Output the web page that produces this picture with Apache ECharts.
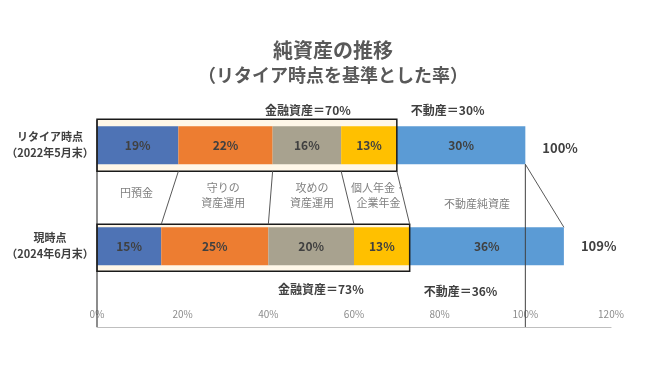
<!DOCTYPE html>
<html><head><meta charset="utf-8">
<script src="https://cdn.jsdelivr.net/npm/echarts@6/dist/echarts.min.js"></script>
<style>html,body{margin:0;padding:0;background:#fff}#c{width:666px;height:368px}</style>
</head><body><div id="c"></div>
<script>
const categories = ['リタイア時点\n（2022年5月末）', '', '現時点\n（2024年6月末）', ''];
const segmentNames = ['円預金', '守りの\n資産運用', '攻めの\n資産運用', '個人年金・\n企業年金', '不動産純資産'];
const retireValues = [19, 22, 16, 13, 30];
const currentValues = [15, 25, 20, 13, 36];
const totalValues = [100, 109];
const financialValues = [70, 73];
const realEstateValues = [30, 36];
const xTicks = [0, 20, 40, 60, 80, 100, 120];
const titleText = '純資産の推移';
const subtitleText = '（リタイア時点を基準とした率）';

const colors = ['#4E73B5', '#ED7D31', '#A8A28F', '#FFC000', '#5B9BD5'];
const FONT = '"Noto Sans CJK JP", "Noto Sans CJK SC", sans-serif';
const BAR = 38;
const rowsCat = [0, 2];
const AXIS_OFFSET = 5;

function cum(arr, n){ let s=0; for(let i=0;i<=n;i++) s+=arr[i]; return s; }
function txt(x, y, text, o){
  return {type:'text', x:x, y:y, silent:true, style:Object.assign({text:text, fill:'#404040', fontFamily:FONT, fontSize:12, fontWeight:'bold', align:'center', verticalAlign:'middle', textAlign:'center', textVerticalAlign:'middle'}, o||{})};
}
function boxBounds(api, r){
  const ci = rowsCat[r];
  const p0 = api.coord([0, ci]);
  const p1 = api.coord([financialValues[r], ci]);
  const top = p0[1] - BAR/2 - (r===0?7:3);
  const bot = p0[1] + BAR/2 + (r===0?7:6);
  return {x0:p0[0], x1:p1[0], top:top, bot:bot, cy:p0[1]};
}

const chart = echarts.init(document.getElementById('c'), null, {renderer:'canvas'});
const barSeries = segmentNames.map((name, i) => ({
  type:'bar', name:name, stack:'total', barWidth:BAR, z:2,
  data:[retireValues[i], null, currentValues[i], null],
  itemStyle:{color:colors[i]},
  label:{show:true, position:'inside', formatter:p => p.value + '%', color:'#404040', fontSize:12, fontWeight:'bold', fontFamily:FONT}
}));

const boxSeries = {
  type:'custom', z:1, silent:true, data:[[0,0]],
  renderItem:(params, api) => {
    const children = [];
    for (let r=0;r<2;r++){
      const b = boxBounds(api, r);
      children.push({type:'rect', shape:{x:b.x0, y:b.top, width:b.x1-b.x0, height:b.bot-b.top}, style:{fill:'#FFF7E8'}});
    }
    return {type:'group', children:children};
  }
};

const overlaySeries = {
  type:'custom', z:5, silent:true, data:[[0,0]],
  renderItem:(params, api) => {
    const cs = params.coordSys;
    const axisY = cs.y + cs.height + AXIS_OFFSET;
    const children = [];
    const lineStyle = {stroke:'#404040', lineWidth:1};
    children.push({type:'line', shape:{x1:cs.x, y1:cs.y, x2:cs.x, y2:axisY}, style:{stroke:'#404040', lineWidth:1.2}});
    const bb = [boxBounds(api,0), boxBounds(api,1)];
    bb.forEach(b => children.push({type:'rect', shape:{x:b.x0, y:b.top, width:b.x1-b.x0, height:b.bot-b.top}, style:{fill:'none', stroke:'#1a1a1a', lineWidth:1.5}}));
    for (let i=0;i<segmentNames.length;i++){
      const xt = api.coord([cum(retireValues,i), rowsCat[0]])[0];
      const xb = api.coord([cum(currentValues,i), rowsCat[1]])[0];
      const last = i === segmentNames.length-1;
      const y1 = last ? bb[0].cy + BAR/2 : bb[0].bot;
      const y2 = last ? bb[1].cy - BAR/2 : bb[1].top;
      children.push({type:'line', shape:{x1:xt, y1:y1, x2:xb, y2:y2}, style:{stroke:'#595959', lineWidth:1}});
    }
    const x100 = api.coord([totalValues[0], rowsCat[0]])[0];
    children.push({type:'line', shape:{x1:x100, y1:bb[0].cy + BAR/2, x2:x100, y2:axisY}, style:lineStyle});
    const midY = api.coord([0, 1])[1];
    for (let i=0;i<segmentNames.length;i++){
      const ct = cum(retireValues,i) - retireValues[i]/2;
      const cb = cum(currentValues,i) - currentValues[i]/2;
      const x = api.coord([(ct+cb)/2, 1])[0] + 3;
      const single = segmentNames[i].indexOf('\n') < 0;
      const dy = single ? (i === 0 ? -3 : 8) : 0;
      children.push(txt(x, midY + dy, segmentNames[i], {fill:'#808080', fontSize:11, fontWeight:'normal', lineHeight:15}));
    }
    for (let r=0;r<2;r++){
      const b = bb[r];
      const y = b.cy + (r===0 ? -35 : 43);
      children.push(txt(b.x1 - 46, y, '金融資産＝' + financialValues[r] + '%', {align:'right', textAlign:'right'}));
      children.push(txt(b.x1 + 14, y + (r===0?0:2), '不動産＝' + realEstateValues[r] + '%', {align:'left', textAlign:'left'}));
      const xt = api.coord([totalValues[r], rowsCat[r]])[0];
      children.push(txt(xt + 17, b.cy + (r===0?3:0), totalValues[r] + '%', {align:'left', textAlign:'left', fontSize:13}));
    }
    return {type:'group', children:children};
  }
};

chart.setOption({
  animation:false,
  backgroundColor:'#ffffff',
  textStyle:{fontFamily:FONT},
  title:[
    {text:titleText, left:'center', top:35, textStyle:{fontSize:20, fontWeight:'bold', color:'#595959', fontFamily:FONT}},
    {text:subtitleText, left:'center', top:61, textStyle:{fontSize:18, fontWeight:'bold', color:'#595959', fontFamily:FONT}}
  ],
  grid:{left:97, right:55, top:120, bottom:46, containLabel:false},
  xAxis:{
    type:'value', min:xTicks[0], max:xTicks[xTicks.length-1], interval:xTicks[1]-xTicks[0],
    offset:AXIS_OFFSET,
    axisLine:{show:true, lineStyle:{color:'#BFBFBF', width:1.2}},
    axisTick:{show:false}, splitLine:{show:false},
    axisLabel:{inside:true, margin:8, formatter:v => v + '%', color:'#8C8C8C', fontSize:10, fontFamily:FONT}
  },
  yAxis:{
    type:'category', inverse:true, data:categories,
    axisLine:{show:false}, axisTick:{show:false}, splitLine:{show:false},
    axisLabel:{align:'center', margin:47, color:'#404040', fontSize:11, fontWeight:'bold', lineHeight:16, fontFamily:FONT, padding:[12,0,0,0]}
  },
  series:[boxSeries].concat(barSeries, [overlaySeries])
});
</script></body></html>
